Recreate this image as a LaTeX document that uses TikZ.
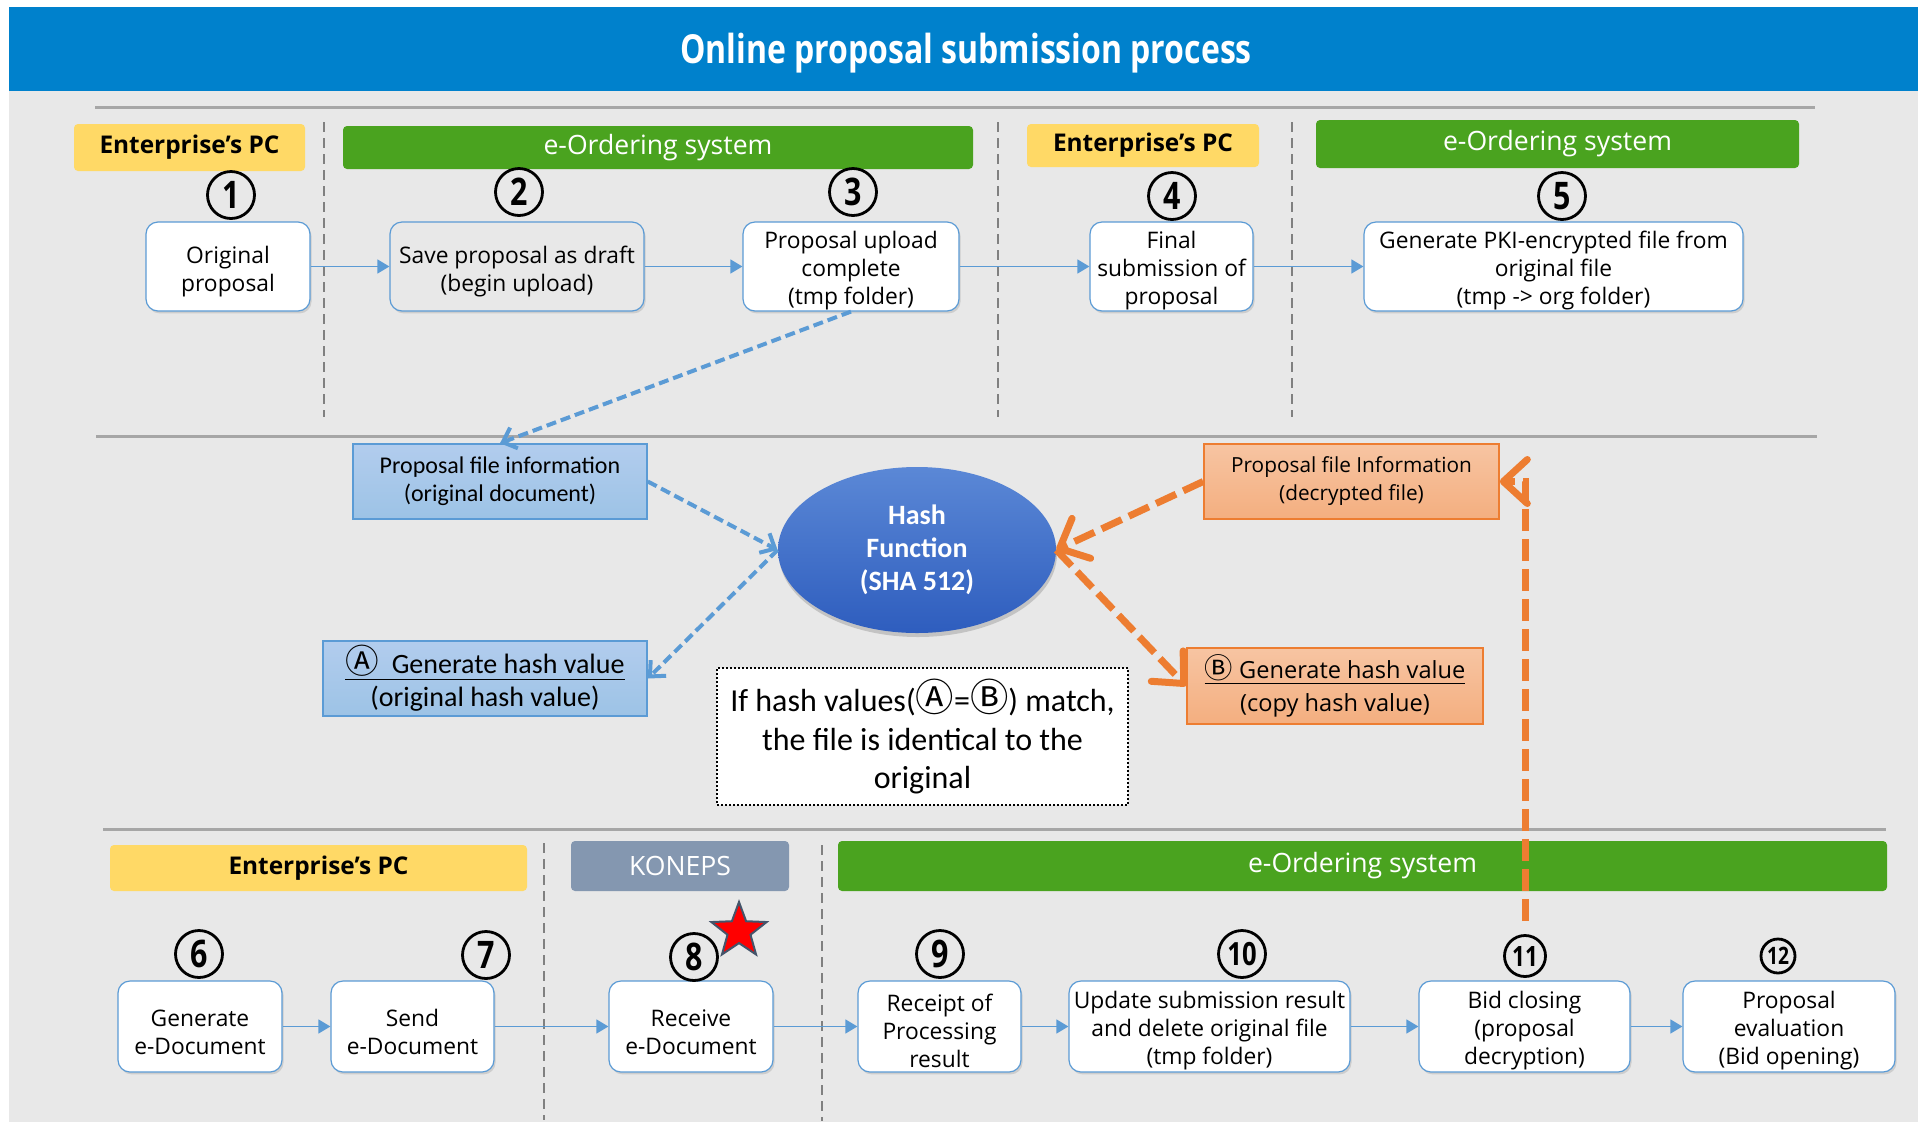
\documentclass[tikz,border=0pt]{standalone}
\usepackage{fontspec}
\setmainfont{Open Sans}
\newfontfamily\calfont{Carlito}
\newfontfamily\symfont[Scale=1.2]{Noto Sans CJK KR}
\newfontfamily\condfont[FakeStretch=0.8]{Open Sans}
\usetikzlibrary{arrows.meta,shapes.geometric,shadows}

\definecolor{titleblue}{HTML}{0081CC}
\definecolor{bggrey}{HTML}{E8E8E8}
\definecolor{pcyellow}{HTML}{FFD966}
\definecolor{sysgreen}{HTML}{4AA31F}
\definecolor{konepsgrey}{HTML}{8497B0}
\definecolor{boxblue}{HTML}{5B9BD5}
\definecolor{dashorange}{HTML}{ED7D31}
\definecolor{sepgrey}{HTML}{A6A6A6}
\definecolor{lanegrey}{HTML}{808080}
\definecolor{starline}{HTML}{44546A}
\definecolor{hashtop}{HTML}{5B88D6}
\definecolor{hashbottom}{HTML}{2E5DBE}

\newcommand\circA{{\symfont Ⓐ}}
\newcommand\circB{{\symfont Ⓑ}}

\begin{document}
\begin{tikzpicture}[x=0.5pt,y=-0.5pt,
    box/.style={draw=boxblue, line width=0.6pt, fill=white, rounded corners=6pt,
      align=center, inner xsep=1pt, inner ysep=0pt, font=\fontsize{11.4}{14}\selectfont,
      drop shadow={shadow xshift=0.8pt, shadow yshift=-1.2pt, opacity=0.25}},
    twoline/.style={text height=27.6pt},
    threeline/.style={text height=41pt},
    num/.style={circle, draw, line width=1.4pt, inner sep=0pt, minimum size=23.5pt,
      font=\condfont\bfseries\fontsize{19}{19}\selectfont},
    band/.style={inner sep=0pt, rounded corners=2pt, font=\fontsize{13.3}{13}\selectfont},
    pcband/.style={band, fill=pcyellow, font=\bfseries\fontsize{12.2}{12}\selectfont},
    sysband/.style={band, fill=sysgreen, text=white},
    bluebox/.style={draw=boxblue, line width=0.8pt, top color=blue!8!boxblue!45, bottom color=boxblue!60,
      align=center, inner sep=1pt, font=\calfont\fontsize{12}{14}\selectfont},
    orangebox/.style={draw=dashorange, line width=0.8pt, top color=dashorange!45, bottom color=dashorange!62,
      align=center, inner sep=1pt, font=\fontsize{10.4}{14}\selectfont},
    flow/.style={draw=boxblue, line width=0.7pt, -{Triangle[length=6pt,width=7pt]}},
    bluedash/.style={draw=boxblue, line width=2pt, dash pattern=on 5pt off 2.5pt,
      -{Straight Barb[length=6pt,width=11pt]}},
    orangedash/.style={draw=dashorange, line width=3.5pt, dash pattern=on 11pt off 4pt,
      -{Straight Barb[length=12pt,width=22pt,round]}},
    sepline/.style={draw=sepgrey, line width=1.5pt},
    lane/.style={draw=lanegrey, line width=0.8pt, dash pattern=on 5pt off 3pt}
  ]
  \useasboundingbox (0,0) rectangle (1918,1126);
  \fill[bggrey] (9,91) rectangle (1918,1122);
  \fill[titleblue] (9,7) rectangle (1918,91);
  \node[text=white, font=\condfont\bfseries\fontsize{20}{20}\selectfont] (title) at (966,53)
    {Online proposal submission process};

  % separators
  \draw[sepline] (95,107) -- (1815,107);
  \draw[sepline] (96,436) -- (1817,436);
  \draw[sepline] (103,829) -- (1886,829);
  \draw[lane] (324,122) -- (324,417);
  \draw[lane] (998,122) -- (998,417);
  \draw[lane] (1292,122) -- (1292,417);
  \draw[lane] (544,843) -- (544,1120);
  \draw[lane] (822,845) -- (822,1121);

  % lane headers
  \node[pcband, minimum width=115.5pt, minimum height=23.5pt] (pc1) at (189.5,147.5) {Enterprise’s PC};
  \node[sysband, minimum width=315pt, minimum height=21.5pt] (sys1) at (658,147.5) {e-Ordering system};
  \node[pcband, minimum width=116pt, minimum height=21.5pt] (pc2) at (1143,145.5) {Enterprise’s PC};
  \node[sysband, minimum width=241.5pt, minimum height=24pt] (sys2) at (1557.5,144) {e-Ordering system};
  \node[pcband, minimum width=208.5pt, minimum height=23pt] (pc3) at (318.5,868) {Enterprise’s PC};
  \node[band, fill=konepsgrey, text=white, minimum width=109pt, minimum height=25pt] (koneps) at (680,866) {KONEPS};
  \node[sysband, minimum width=524.5pt, minimum height=25pt] (sys3) at (1362.5,866) {e-Ordering system};

  % upload steps
  \node[box, twoline, minimum width=82pt, minimum height=44.5pt] (orig) at (228,266.5) {Original\\proposal};
  \node[box, twoline, fill=bggrey, minimum width=127pt, minimum height=44.5pt] (draft) at (517,266.5) {Save proposal as draft\\(begin upload)};
  \node[box, threeline, minimum width=108pt, minimum height=44.5pt] (upload) at (851,266.5) {Proposal upload\\complete\\(tmp folder)};
  \node[box, threeline, minimum width=81.5pt, minimum height=44.5pt] (final) at (1171.5,266.5) {Final\\submission of\\proposal};
  \node[box, threeline, minimum width=189.5pt, minimum height=44.5pt] (pki) at (1553.5,266.5) {Generate PKI-encrypted file from\\original file\\(tmp -> org folder)};
  \node[num] (n1) at (231,195) {1};
  \node[num] (n2) at (519,192) {2};
  \node[num] (n3) at (853,192) {3};
  \node[num] (n4) at (1172,196) {4};
  \node[num] (n5) at (1562,196) {5};
  \draw[flow] (orig) -- (draft);
  \draw[flow] (draft) -- (upload);
  \draw[flow] (upload) -- (final);
  \draw[flow] (final) -- (pki);

  % hash check
  \node[bluebox, minimum width=147pt, minimum height=37.5pt] (info) at (500,481.5) {Proposal file information\\(original document)};
  \node[bluebox, font=\calfont\fontsize{14}{16.5}\selectfont, minimum width=162pt, minimum height=37.5pt] (hashA) at (485,678.5)
    {\underline{\circA\ \ Generate hash value}\\(original hash value)};
  \node[ellipse, top color=hashtop, bottom color=hashbottom, text=white,
    minimum width=139pt, minimum height=83pt, inner sep=0pt, align=center,
    font=\calfont\bfseries\fontsize{14}{16.5}\selectfont,
    drop shadow={shadow xshift=0.5pt, shadow yshift=-2pt, opacity=0.35}] (hash) at (917,550) {Hash\\Function\\(SHA 512)};
  \node[orangebox, minimum width=147.5pt, minimum height=37.5pt] (dec) at (1351.5,481.5) {Proposal file Information\\(decrypted file)};
  \node[orangebox, font=\fontsize{11.8}{16.5}\selectfont, minimum width=148pt, minimum height=38pt] (hashB) at (1335,686)
    {\underline{\circB\ Generate hash value}\\(copy hash value)};
  \node[draw, fill=white, line width=1.2pt, dash pattern=on 1pt off 1pt, align=center,
    minimum width=205.5pt, minimum height=68.5pt, font=\calfont\fontsize{16}{19.3}\selectfont] (note) at (922.5,736.5)
    {If hash values(\circA=\circB) match,\\the file is identical to the\\original};
  \draw[bluedash] (upload.south) -- (info.north);
  \draw[bluedash] (info.east) -- (hash.west);
  \draw[bluedash] (hash.west) -- (hashA.east);
  \draw[orangedash] (dec.west) -- (hash.east);
  \draw[orangedash] (hash.east) -- (hashB.west);

  % submission steps
  \node[box, twoline, minimum width=82pt, minimum height=45.5pt] (gen) at (200,1026.5) {Generate\\e-Document};
  \node[box, twoline, minimum width=81.5pt, minimum height=45.5pt] (send) at (412.5,1026.5) {Send\\e-Document};
  \node[box, twoline, minimum width=82pt, minimum height=45.5pt] (recv) at (691,1026.5) {Receive\\e-Document};
  \node[box, threeline, minimum width=81.5pt, minimum height=45.5pt] (receipt) at (939.5,1026.5) {Receipt of\\Processing\\result};
  \node[box, threeline, minimum width=140.5pt, minimum height=45.5pt] (update) at (1209.5,1026.5) {Update submission result\\and delete original file\\(tmp folder)};
  \node[box, threeline, minimum width=105.5pt, minimum height=45.5pt] (closing) at (1524.5,1026.5) {Bid closing\\(proposal\\decryption)};
  \node[box, threeline, minimum width=106pt, minimum height=45.5pt] (eval) at (1789,1026.5) {Proposal\\evaluation\\(Bid opening)};
  \node[num] (n6) at (199,954) {6};
  \node[num] (n7) at (486,955) {7};
  \node[num] (n8) at (694,957) {8};
  \node[num] (n9) at (940,954) {9};
  \node[num, font=\condfont\bfseries\fontsize{16}{16}\selectfont] (n10) at (1242,954) {10};
  \node[num, minimum size=20.5pt, font=\condfont\bfseries\fontsize{14}{14}\selectfont] (n11) at (1525,956) {11};
  \node[num, minimum size=17pt, font=\condfont\bfseries\fontsize{12}{12}\selectfont] (n12) at (1778,956) {12};
  \node[star, star points=5, star point ratio=2.4, fill=red, draw=starline, line width=1pt,
    minimum size=29pt, inner sep=0pt] (mark) at (739,931) {};
  \draw[flow] (gen) -- (send);
  \draw[flow] (send) -- (recv);
  \draw[flow] (recv) -- (receipt);
  \draw[flow] (receipt) -- (update);
  \draw[flow] (update) -- (closing);
  \draw[flow] (closing) -- (eval);

  \coordinate (up11) at (1525,921);
  \draw[orangedash] (up11) |- (dec.east);
\end{tikzpicture}
\end{document}
